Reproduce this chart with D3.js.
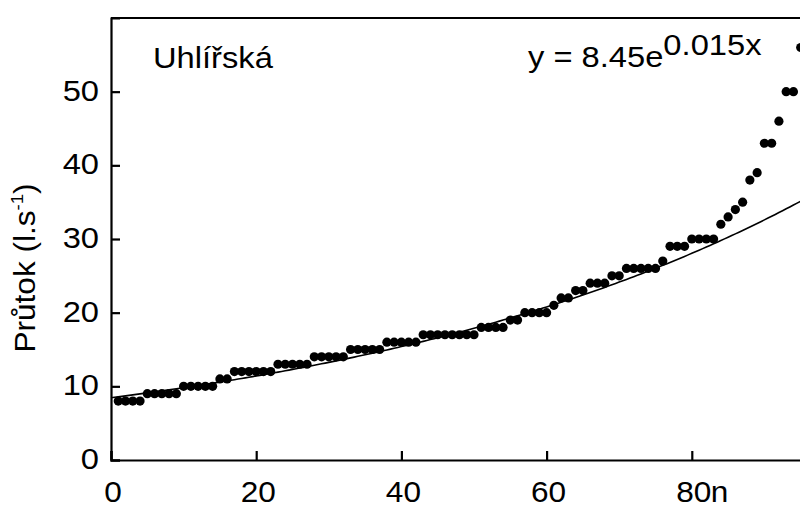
<!DOCTYPE html>
<html>
<head>
<meta charset="utf-8">
<script src="https://cdn.jsdelivr.net/npm/d3@7"></script>
<style>
  body { margin: 0; background: #fff; }
  svg text { font-family: "Liberation Sans", Arial, sans-serif; fill: #000; }
</style>
</head>
<body>
<svg id="chart" width="800" height="509"></svg>
<script>
// Sorted daily discharge values (l/s), one per rank n = 1..95
const ranks = d3.range(1, 96);
const discharge = [
  8, 8, 8, 8,
  9, 9, 9, 9, 9,
  10, 10, 10, 10, 10,
  11, 11,
  12, 12, 12, 12, 12, 12,
  13, 13, 13, 13, 13,
  14, 14, 14, 14, 14,
  15, 15, 15, 15, 15,
  16, 16, 16, 16, 16,
  17, 17, 17, 17, 17, 17, 17, 17,
  18, 18, 18, 18,
  19, 19,
  20, 20, 20, 20,
  21,
  22, 22,
  23, 23,
  24, 24, 24,
  25, 25,
  26, 26, 26, 26, 26,
  27,
  29, 29, 29,
  30, 30, 30, 30,
  32, 33, 34, 35, 38, 39,
  43, 43,
  46,
  50, 50,
  56
];

// Exponential fit y = a * e^(b x)
const fitA = 8.45;
const fitB = 0.015;

const xTicks = [0, 20, 40, 60, 80];
const yTicks = [0, 10, 20, 30, 40, 50];
const stationName = "Uhlířská";

const svg = d3.select("#chart");

const x = d3.scaleLinear().domain([0, 100]).range([111, 837]);
const y = d3.scaleLinear().domain([0, 60]).range([460, 18]);

const fontSize = 30;
const widen = 1.09;   // slightly broad lettering

// text placed at (tx, ty) and widened horizontally around its anchor
function label(parent, tx, ty, size, anchor) {
  return parent.append("text")
    .attr("transform", `translate(${tx},${ty}) scale(${widen},1)`)
    .attr("font-size", size)
    .attr("text-anchor", anchor || "start");
}

// Frame (top edge and axes)
svg.append("line")
  .attr("x1", x(0)).attr("x2", x(100))
  .attr("y1", y(60)).attr("y2", y(60))
  .attr("stroke", "#000").attr("stroke-width", 2.2);

const gx = svg.append("g").attr("transform", `translate(0,${y(0)})`)
  .call(d3.axisBottom(x).tickValues(xTicks).tickSize(-9).tickFormat(""));
const gy = svg.append("g").attr("transform", `translate(${x(0)},0)`)
  .call(d3.axisLeft(y).tickValues(yTicks).tickSize(-9).tickFormat(""));

[gx, gy].forEach(g => {
  g.select(".domain").attr("stroke", "#000").attr("stroke-width", 2.2);
  g.selectAll(".tick line").attr("stroke", "#000").attr("stroke-width", 2.2);
});

// Tick labels
xTicks.forEach(d => label(svg, x(d) + 2, 502, 29, "middle").text(d));
label(svg, x(80) + 19, 502, 29).text("n");
yTicks.forEach(d => label(svg, 99, y(d) + 9, fontSize, "end").text(d));

// Y axis title
const yTitle = svg.append("text")
  .attr("transform", `translate(35,268) rotate(-90) scale(${widen},1)`)
  .attr("text-anchor", "middle")
  .attr("font-size", 29);
yTitle.append("tspan").text("Průtok (l.s");
yTitle.append("tspan").attr("font-size", 17).attr("dy", -12).text("-1");
yTitle.append("tspan").attr("dy", 12).text(")");

// Fitted curve
const curveX = d3.range(0, 100.5, 0.5);
svg.append("path")
  .datum(curveX)
  .attr("fill", "none")
  .attr("stroke", "#000")
  .attr("stroke-width", 1.6)
  .attr("d", d3.line().x(d => x(d)).y(d => y(fitA * Math.exp(fitB * d))));

// Observations
svg.append("g").selectAll("circle").data(ranks).join("circle")
  .attr("cx", d => x(d))
  .attr("cy", (d, i) => y(discharge[i]))
  .attr("r", 4.6)
  .attr("fill", "#000");

// Annotations
label(svg, 153, 68, 30).text(stationName);

const eq = label(svg, 528, 67, fontSize);
eq.append("tspan").text(`y = ${fitA}e`);
eq.append("tspan").attr("dy", -12).text(`${fitB}x`);
</script>
</body>
</html>
